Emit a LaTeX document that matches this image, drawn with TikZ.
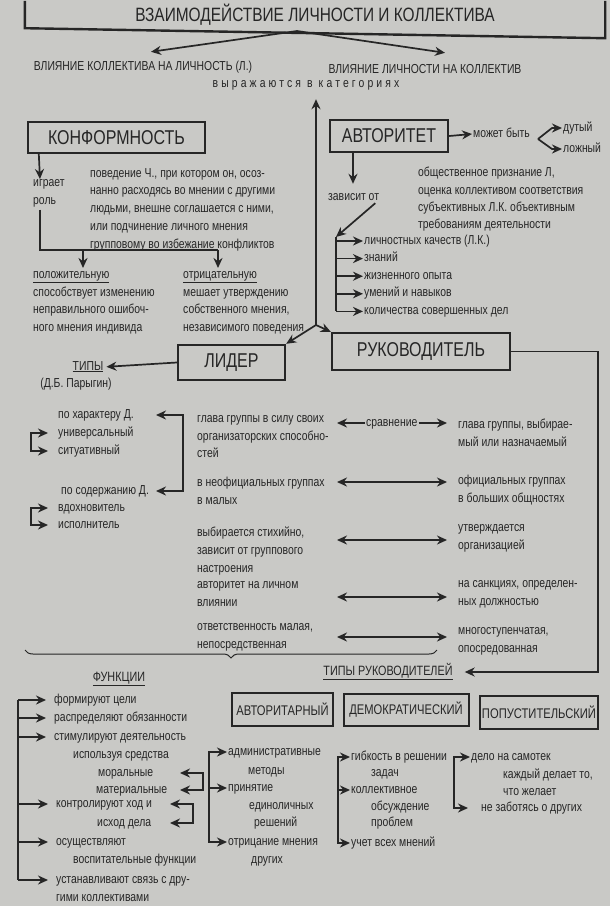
\documentclass[tikz,border=0pt]{standalone}
\usepackage{fontspec}
\setmainfont{Liberation Sans}[FakeStretch=0.8]
\newfontfamily\spacedfont{Liberation Sans}[FakeStretch=0.8,LetterSpace=24]
\usetikzlibrary{arrows.meta,calc,decorations.pathreplacing}
\definecolor{Ink}{HTML}{262626}
\definecolor{Paper}{HTML}{C9C9C6}
\newcommand\bodyfont{\fontsize{13}{17.8}\selectfont}
\newcommand\tightfont{\fontsize{13}{17.4}\selectfont}
\newcommand\capfont{\fontsize{13.5}{16}\selectfont}
\newcommand\boxfont{\fontsize{20}{24}\selectfont}
\newcommand\typefont{\fontsize{14}{17}\selectfont}
\newcommand\titlefont{\fontsize{19.3}{22}\selectfont}
\tikzset{
  bigbox/.style={draw=Ink, line width=2.4pt, font=\boxfont, inner sep=0pt},
  smallbox/.style={draw=Ink, line width=2pt, font=\typefont, inner sep=0pt},
  txt/.style={font=\bodyfont, anchor=west, inner xsep=1pt, inner ysep=0pt,
    text height=9pt, text depth=3pt},
  lbl/.style={font=\bodyfont, inner sep=0pt, text height=9pt, text depth=3pt},
  blk/.style={font=\bodyfont, anchor=north west, align=left, inner sep=0pt,
    yshift=-6pt, execute at begin node=\strut},
  thk/.style={line width=1.7pt, draw=Ink},
  arr/.style={thk, -{Stealth[length=10pt,width=9pt]}},
  dbl/.style={thk, {Stealth[length=10pt,width=9pt]}-{Stealth[length=10pt,width=9pt]}}
}
\begin{document}
\begin{tikzpicture}[x=1pt, y=-1pt, color=Ink]
  \fill[Paper] (0,0) rectangle (610,906);
  \useasboundingbox (0,0) rectangle (610,906);
  % title
  \node[font=\titlefont, minimum width=580pt, minimum height=27pt, inner sep=0pt] (title) at (315,14.5) {ВЗАИМОДЕЙСТВИЕ ЛИЧНОСТИ И КОЛЛЕКТИВА};
  \draw[line width=2.4pt] (title.north west) -- (title.south west)
    -- ([yshift=-10pt]title.south east) -- (title.north east);
  \node[lbl] (infl1) at (143,67) {ВЛИЯНИЕ КОЛЛЕКТИВА НА ЛИЧНОСТЬ (Л.)};
  \node[lbl] (infl2) at (425,70) {ВЛИЯНИЕ ЛИЧНОСТИ НА КОЛЛЕКТИВ};
  \node[lbl, font=\bodyfont\spacedfont] (categ) at (306,84) {выражаются в категориях};
  \coordinate (tsplit) at (297,31);
  \draw[arr] (tsplit) -- ([xshift=8pt,yshift=9pt]infl1.north);
  \draw[arr] (tsplit) -- ([xshift=20pt,yshift=11pt]infl2.north);

  % categories
  \node[bigbox, minimum width=177pt, minimum height=31pt] (konf) at (116.5,137.5) {КОНФОРМНОСТЬ};
  \node[bigbox, minimum width=118pt, minimum height=32pt] (avt) at (389,136) {АВТОРИТЕТ};
  \node[bigbox, minimum width=107pt, minimum height=35pt] (lider) at (231.5,362.5) {ЛИДЕР};
  \node[bigbox, minimum width=178pt, minimum height=37pt] (ruk) at (421,351.5) {РУКОВОДИТЕЛЬ};
  \coordinate (hub) at (316,325);
  \draw[arr, shorten >=9pt] (hub) -- (hub |- categ.south);
  \draw[arr] (hub) -- (lider.north east);
  \draw[arr] (hub) -- (ruk.north west);

  % conformity
  \node[blk] (igr) at (33,173) {играет\\роль};
  \draw[arr] ([xshift=12pt]konf.south west) -- ([xshift=7pt]igr.north west);
  \node[blk] (kdef) at (90,162) {поведение Ч., при котором он, осоз-\\нанно расходясь во мнении с другими\\людьми, внешне соглашается с ними,\\или подчинение личного мнения\\групповому во избежание конфликтов};
  \node[blk] (pos) at (33,265) {\underline{положительную}\\способствует изменению\\неправильного ошибоч-\\ного мнения индивида};
  \node[blk] (neg) at (183,265) {\underline{отрицательную}\\мешает утверждению\\собственного мнения,\\независимого поведения};
  \coordinate (kbar) at (40,250);
  \coordinate (kpos) at ([xshift=50pt,yshift=3pt]pos.north west);
  \coordinate (kneg) at ([xshift=35pt,yshift=3pt]neg.north west);
  \draw[thk] ([xshift=7pt]igr.south west) |- (kbar -| kneg);
  \draw[arr] (kbar -| kpos) -- (kpos);
  \draw[arr] (kbar -| kneg) -- (kneg);

  % authority
  \node[txt] (mozh) at (472,134) {может быть};
  \node[txt] (dut) at (562,128) {дутый};
  \node[txt] (lozh) at (562,149) {ложный};
  \draw[arr] (avt.east) -- (mozh.west);
  \coordinate (msplit) at (538,139);
  \draw[arr] (msplit) -- ([xshift=-10pt]dut.west) -- (dut.west);
  \draw[arr] (msplit) -- ([xshift=-10pt]lozh.west) -- (lozh.west);
  \node[blk, font=\tightfont] (adef) at (418,161) {общественное признание Л,\\оценка коллективом соответствия\\субъективных Л.К. объективным\\требованиям деятельности};
  \node[txt] (zav) at (327,197) {зависит от};
  \coordinate (zavtop) at ([xshift=26pt,yshift=7pt]zav.north west);
  \draw[arr] (avt.south -| zavtop) -- (zavtop);
  \coordinate (abr) at (336,237);
  \draw[arr] ([xshift=-5pt]zav.south east) -- (abr);
  \foreach \t [count=\i] in {личностных качеств (Л.К.), знаний, жизненного опыта, умений и навыков, количества совершенных дел}
    \node[txt] (q\i) at (363,{223.4+17.6*\i}) {\t};
  \draw[thk] (abr) -- (abr |- q5);
  \foreach \i in {1,...,5}
    \draw[arr] (abr |- q\i) -- (q\i.west);

  % leader
  \node[lbl] (tipy) at (88,367) {\underline{ТИПЫ}};
  \node[lbl] (paryg) at (76,384) {(Д.Б. Парыгин)};
  \draw[arr, shorten >=3pt] (lider.west) -- (tipy.east);
  \node[txt] (har) at (57,415) {по характеру Д.};
  \node[txt] (har1) at (57,433) {универсальный};
  \node[txt] (har2) at (57,451) {ситуативный};
  \node[txt] (sod) at (60,491) {по содержанию Д.};
  \node[txt] (sod1) at (57,508) {вдохновитель};
  \node[txt] (sod2) at (57,525) {исполнитель};
  \coordinate (ltip) at (156,0);
  \coordinate (lbr) at (183,0);
  \draw[dbl] (har -| ltip) -- (har -| lbr) -- (sod -| lbr) -- (sod -| ltip);
  \draw[dbl] ([xshift=-9pt]har1.west) -- ++(-17,0) |- ([xshift=-9pt]har2.west);
  \draw[dbl] ([xshift=-9pt]sod1.west) -- ++(-17,0) |- ([xshift=-9pt]sod2.west);

  % leader vs manager
  \node[blk] (l1) at (197,409) {глава группы в силу своих\\организаторских способно-\\стей};
  \node[blk] (l2) at (197,471) {в неофициальных группах\\в малых};
  \node[blk] (l3) at (197,521) {выбирается стихийно,\\зависит от группового\\настроения};
  \node[blk] (l4) at (197,575) {авторитет на личном\\влиянии};
  \node[blk] (l5) at (197,617) {ответственность малая,\\непосредственная};
  \node[blk] (m1) at (458,413) {глава группы, выбирае-\\мый или назначаемый};
  \node[blk] (m2) at (458,469) {официальных группах\\в больших общностях};
  \node[blk] (m3) at (458,518) {утверждается\\организацией};
  \node[blk] (m4) at (458,574) {на санкциях, определен-\\ных должностью};
  \node[blk] (m5) at (458,621) {многоступенчатая,\\опосредованная};
  \coordinate (colL) at (337,0);
  \coordinate (colR) at (447,0);
  \node[txt] (srav) at (365,423) {сравнение};
  \draw[arr] (srav.west) -- (srav.west -| colL);
  \draw[arr] (srav.east) -- (srav.east -| colR);
  \foreach \y [count=\i from 2] in {482,540,597,637} {
    \coordinate (r\i) at (0,\y);
    \draw[dbl] (colL |- r\i) -- (colR |- r\i);
  }
  \coordinate (brL) at (25,650);
  \coordinate (brR) at (437,650);
  \draw[line width=1pt, decorate, decoration={brace, amplitude=8pt, mirror}] (brL) -- (brR);

  % types of managers
  \node[lbl, font=\capfont] (tipruk) at (388,672) {\underline{ТИПЫ РУКОВОДИТЕЛЕЙ}};
  \coordinate (rcorner) at (598,672);
  \draw[arr, shorten >=12pt] (ruk.east) -| (rcorner) -- (tipruk.east);
  \node[smallbox, minimum width=101pt, minimum height=33pt] (avtr) at (282.5,709) {АВТОРИТАРНЫЙ};
  \node[smallbox, minimum width=125pt, minimum height=32pt] (dem) at (406,710) {ДЕМОКРАТИЧЕСКИЙ};
  \node[smallbox, minimum width=118pt, minimum height=33pt] (pop) at (539,712) {ПОПУСТИТЕЛЬСКИЙ};

  % functions
  \node[lbl, font=\capfont] (funk) at (119,678) {\underline{ФУНКЦИИ}};
  \node[txt] (f1) at (53,700) {формируют цели};
  \node[txt] (f2) at (53,718) {распределяют обязанности};
  \node[txt] (f3) at (53,737) {стимулируют деятельность};
  \node[txt] (f3a) at (72,755) {используя средства};
  \node[txt] (mor) at (97,773) {моральные};
  \node[txt] (mat) at (95,790) {материальные};
  \node[txt] (f4) at (55,804) {контролируют ход и};
  \node[txt] (f4a) at (96,823) {исход дела};
  \node[txt] (f5) at (55,842) {осуществляют};
  \node[txt] (f5a) at (72,860) {воспитательные функции};
  \node[txt] (f6) at (55,880) {устанавливают связь с дру-};
  \node[txt] (f6a) at (55,898) {гими коллективами};
  \coordinate (fbr) at (18,0);
  \draw[thk] (fbr |- f1) -- (fbr |- f6);
  \foreach \n in {f1,f2,f3,f4,f5,f6}
    \draw[arr, shorten >=7pt] (fbr |- \n.west) -- (\n.west);
  \coordinate (mtip) at (180,0);
  \coordinate (mbar) at (203,0);
  \draw[dbl] (mor -| mtip) -- (mor -| mbar) -- (mat -| mbar) -- (mat -| mtip);
  \coordinate (ktip) at (170,0);
  \coordinate (kbar2) at (193,0);
  \draw[dbl] (f4 -| ktip) -- (f4 -| kbar2) -- (f4a -| kbar2) -- (f4a -| ktip);

  % authoritarian
  \node[txt] (a1) at (227,752) {административные};
  \node[txt] (a1b) at (247,771) {методы};
  \node[txt] (a2) at (227,788) {принятие};
  \node[txt] (a2b) at (248,806) {единоличных};
  \node[txt] (a2c) at (253,823) {решений};
  \node[txt] (a3) at (227,842) {отрицание мнения};
  \node[txt] (a3b) at (250,860) {других};
  \coordinate (abar) at (209,0);
  \draw[dbl] (a1.west) -- (a1 -| abar) -- (a3 -| abar) -- (a3.west);
  \draw[arr] (a2 -| abar) -- (a2.west);

  % democratic
  \node[txt] (d1) at (350,757) {гибкость в решении};
  \node[txt] (d1b) at (370,773) {задач};
  \node[txt] (d2) at (350,790) {коллективное};
  \node[txt] (d2b) at (370,807) {обсуждение};
  \node[txt] (d2c) at (370,823) {проблем};
  \node[txt] (d3) at (350,843) {учет всех мнений};
  \coordinate (dbar) at (338,0);
  \draw[dbl] (d1.west) -- (d1 -| dbar) -- (d3 -| dbar) -- (d3.west);
  \draw[arr] (d2 -| dbar) -- (d2.west);

  % laissez-faire
  \node[txt] (p1) at (470,757) {дело на самотек};
  \node[txt] (p1b) at (502,775) {каждый делает то,};
  \node[txt] (p1c) at (502,792) {что желает};
  \node[txt] (p2) at (480,808) {не заботясь о других};
  \coordinate (pbar) at (454,0);
  \draw[dbl] (p1.west) -- (p1 -| pbar) -- (p2 -| pbar) -- ([xshift=-12pt]p2.west);
\end{tikzpicture}
\end{document}
